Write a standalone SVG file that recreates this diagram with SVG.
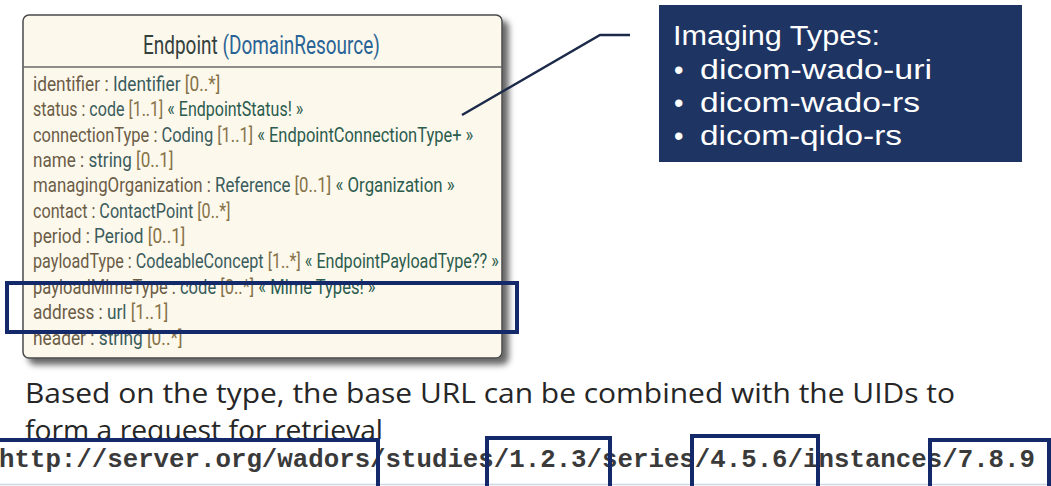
<svg xmlns="http://www.w3.org/2000/svg" width="1051" height="486" viewBox="0 0 1051 486">
<style>
.attr{font-family:Roboto,"Open Sans","Liberation Sans",sans-serif;font-size:19.5px;fill:#6b5c46}
.ty{fill:#3a5c5c}
.cd{fill:#857248}
.vs{fill:#2b5c4e}
.title{font-family:Roboto,"Open Sans","Liberation Sans",sans-serif;font-size:26px;fill:#34403c}
.dr{fill:#2a6496}
.bullet{font-family:"Liberation Sans",Arial,sans-serif;font-size:27px;fill:#ffffff}
.body{font-family:"Open Sans","Liberation Sans",sans-serif;font-size:27px;fill:#262626}
.url{font-family:"Liberation Mono","Courier New",monospace;font-weight:bold;font-size:25.8px;fill:#3a3a3a}
.hl{fill:none;stroke:#14296a;stroke-width:4}
</style>
<defs>
<filter id="sh" x="-5%" y="-5%" width="115%" height="115%">
<feDropShadow dx="6" dy="6" stdDeviation="3" flood-color="#000" flood-opacity="0.6"/>
</filter>
</defs>
<rect width="1051" height="486" fill="#ffffff"/>

<g id="endpoint">
<rect x="23" y="15" width="479" height="343" rx="6" fill="#fdf8ec" stroke="#4a4a4a" stroke-width="1.5" filter="url(#sh)"/>
<line x1="23" y1="67" x2="502" y2="67" stroke="#6a6a6a" stroke-width="1.5"/>
<text class="title" transform="translate(143,54) scale(0.73,1)">Endpoint <tspan class="dr">(DomainResource)</tspan></text>
<text class="attr" transform="translate(33,91) scale(0.887,1)">identifier : <tspan class="ty">Identifier</tspan> <tspan class="cd">[0..*]</tspan></text>
<text class="attr" transform="translate(33,116) scale(0.822,1)">status : <tspan class="ty">code</tspan> <tspan class="cd">[1..1]</tspan> <tspan class="vs">« EndpointStatus! »</tspan></text>
<text class="attr" transform="translate(33,141.5) scale(0.844,1)">connectionType : <tspan class="ty">Coding</tspan> <tspan class="cd">[1..1]</tspan> <tspan class="vs">« EndpointConnectionType+ »</tspan></text>
<text class="attr" transform="translate(33,167) scale(0.878,1)">name : <tspan class="ty">string</tspan> <tspan class="cd">[0..1]</tspan></text>
<text class="attr" transform="translate(33,192) scale(0.863,1)">managingOrganization : <tspan class="ty">Reference</tspan> <tspan class="cd">[0..1]</tspan> <tspan class="vs">« Organization »</tspan></text>
<text class="attr" transform="translate(33,217.5) scale(0.829,1)">contact : <tspan class="ty">ContactPoint</tspan> <tspan class="cd">[0..*]</tspan></text>
<text class="attr" transform="translate(33,243) scale(0.884,1)">period : <tspan class="ty">Period</tspan> <tspan class="cd">[0..1]</tspan></text>
<text class="attr" transform="translate(33,268) scale(0.829,1)">payloadType : <tspan class="ty">CodeableConcept</tspan> <tspan class="cd">[1..*]</tspan> <tspan class="vs">« EndpointPayloadType?? »</tspan></text>
<text class="attr" transform="translate(33,293.5) scale(0.849,1)">payloadMimeType : <tspan class="ty">code</tspan> <tspan class="cd">[0..*]</tspan> <tspan class="vs">« Mime Types! »</tspan></text>
<text class="attr" transform="translate(33,319) scale(0.883,1)">address : <tspan class="ty">url</tspan> <tspan class="cd">[1..1]</tspan></text>
<text class="attr" transform="translate(33,344.5) scale(0.888,1)">header : <tspan class="ty">string</tspan> <tspan class="cd">[0..*]</tspan></text>
</g>

<g id="address-highlight">
<rect class="hl" x="7" y="283" width="510" height="49" stroke-width="3.5"/>
</g>

<g id="imaging-types">
<rect x="659" y="5" width="363" height="157" fill="#1e3462"/>
<text class="bullet" x="673" y="45" textLength="207" lengthAdjust="spacingAndGlyphs">Imaging Types:</text>
<text class="bullet" x="674" y="79">•</text>
<text class="bullet" x="700" y="79" textLength="232" lengthAdjust="spacingAndGlyphs">dicom-wado-uri</text>
<text class="bullet" x="674" y="112">•</text>
<text class="bullet" x="700" y="112" textLength="220" lengthAdjust="spacingAndGlyphs">dicom-wado-rs</text>
<text class="bullet" x="674" y="145">•</text>
<text class="bullet" x="700" y="145" textLength="202" lengthAdjust="spacingAndGlyphs">dicom-qido-rs</text>
</g>

<g id="connectors">
<polyline points="462,115 600,35 630,35" fill="none" stroke="#1c2a4a" stroke-width="2.5"/>
</g>

<g id="caption">
<text class="body" x="25" y="403" textLength="930" lengthAdjust="spacingAndGlyphs">Based on the type, the base URL can be combined with the UIDs to</text>
<text class="body" x="25" y="440" textLength="358" lengthAdjust="spacingAndGlyphs">form a request for retrieval</text>
</g>

<g id="url">
<rect x="0" y="439" width="1051" height="47" fill="#ffffff"/>
<line x1="0" y1="484.5" x2="1051" y2="484.5" stroke="#cdd7e3" stroke-width="1.5"/>
<text class="url" x="-1" y="467" textLength="1036" lengthAdjust="spacingAndGlyphs">http://server.org/wadors/studies/1.2.3/series/4.5.6/instances/7.8.9</text>
<rect class="hl" x="-2" y="440" width="380" height="60"/>
<rect class="hl" x="487" y="438" width="123" height="60"/>
<rect class="hl" x="692" y="436" width="126" height="60"/>
<rect class="hl" x="930" y="440" width="119" height="60"/>
</g>
</svg>
